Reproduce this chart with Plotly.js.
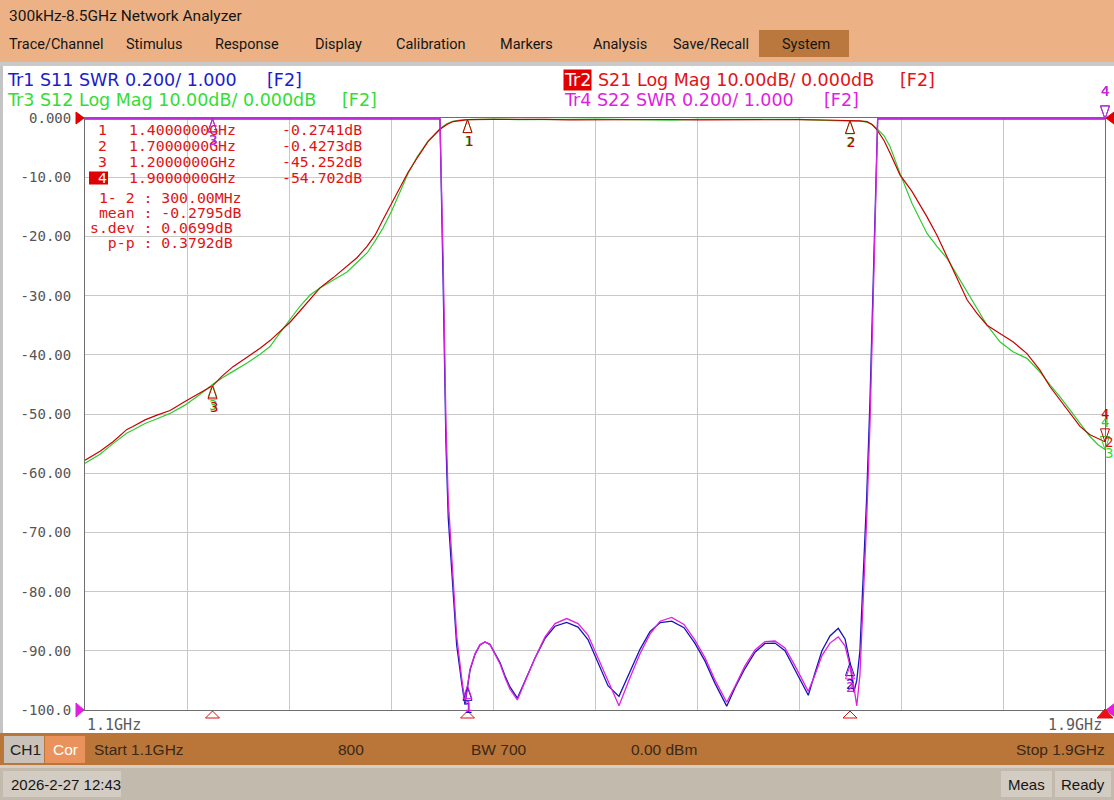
<!DOCTYPE html>
<html><head><meta charset="utf-8">
<script src="https://cdn.plot.ly/plotly-3.0.1.min.js"></script>
<style>html,body{margin:0;padding:0;background:#fff;overflow:hidden}#chart{width:1114px;height:800px}</style>
</head><body><div id="chart"></div>
<script>
// ---------------- DATA ----------------
const freqDb = [1.1000,1.1118,1.1220,1.1329,1.1376,1.1471,1.1565,1.1667,1.1784,1.1902,1.2000,1.2075,1.2161,1.2271,1.2373,1.2451,1.2529,1.2608,1.2686,1.2765,1.2843,1.2945,1.3055,1.3133,1.3212,1.3275,1.3337,1.3408,1.3471,1.3533,1.3604,1.3690,1.3784,1.3839,1.3886,1.3941,1.4000,1.42,1.44,1.46,1.48,1.50,1.52,1.54,1.56,1.58,1.60,1.62,1.64,1.66,1.68,1.7000,1.7078,1.7133,1.7173,1.7212,1.7267,1.7314,1.7392,1.7486,1.7604,1.7682,1.7761,1.7839,1.7918,1.7996,1.8075,1.8176,1.8278,1.8388,1.8490,1.8569,1.8647,1.8725,1.8804,1.8882,1.8945,1.9000];
const s21Db = [-57.8,-56.3,-54.7,-52.6,-52.1,-51.0,-50.2,-49.4,-47.9,-46.4,-45.25,-43.6,-42.0,-40.4,-38.9,-37.6,-36.1,-34.5,-32.6,-30.6,-28.7,-27.0,-25.1,-23.6,-21.7,-19.8,-17.2,-14.3,-11.6,-9.2,-6.8,-4.0,-1.9,-1.1,-0.6,-0.38,-0.274,-0.22,-0.20,-0.24,-0.31,-0.27,-0.22,-0.19,-0.25,-0.33,-0.30,-0.23,-0.21,-0.27,-0.34,-0.427,-0.50,-0.62,-1.1,-2.0,-3.8,-5.9,-9.6,-12.4,-16.7,-19.8,-23.4,-27.1,-30.7,-33.0,-35.0,-36.4,-37.8,-39.8,-42.6,-45.4,-47.6,-49.9,-52.1,-53.5,-54.1,-54.70];
const s12Db = [-58.3,-56.8,-55.0,-53.2,-52.7,-51.6,-50.8,-49.9,-48.5,-46.7,-45.0,-43.9,-42.8,-41.4,-39.9,-38.6,-36.3,-34.0,-31.8,-29.9,-28.7,-27.4,-26.0,-24.4,-22.8,-20.8,-18.6,-15.6,-12.4,-9.4,-6.6,-3.9,-1.8,-0.95,-0.55,-0.35,-0.27,-0.20,-0.26,-0.30,-0.24,-0.20,-0.28,-0.40,-0.36,-0.24,-0.21,-0.30,-0.27,-0.24,-0.40,-0.46,-0.52,-0.70,-1.1,-1.8,-3.0,-4.8,-9.35,-14.4,-19.5,-21.7,-23.7,-26.5,-29.3,-32.1,-35.0,-37.8,-39.5,-40.6,-42.9,-45.1,-47.1,-49.3,-51.6,-53.8,-55.2,-56.0];

const freqSwr = [1.1000,1.2000,1.3000,1.3700,1.3784,1.3810,1.3831,1.3849,1.3876,1.3915,1.3955,1.3980,1.4020,1.4059,1.4098,1.4137,1.4176,1.4216,1.4255,1.4294,1.4333,1.4391,1.4451,1.4529,1.4608,1.4686,1.4778,1.4867,1.4945,1.5024,1.5102,1.5188,1.5275,1.5353,1.5431,1.5510,1.5602,1.5698,1.5784,1.5863,1.5941,1.6033,1.6098,1.6176,1.6255,1.6333,1.6412,1.6490,1.6569,1.6673,1.6725,1.6780,1.6843,1.6908,1.6961,1.7000,1.7030,1.7053,1.7078,1.7104,1.7131,1.7157,1.7183,1.7204,1.7217,1.7300,1.8000,1.9000];
const s11Swr = [42,28,13,4.0,3.00,2.42,1.90,1.65,1.46,1.22,1.09,1.018,1.135,1.188,1.220,1.230,1.222,1.193,1.160,1.116,1.078,1.040,1.100,1.175,1.242,1.283,1.296,1.280,1.238,1.160,1.082,1.046,1.128,1.205,1.265,1.295,1.300,1.278,1.225,1.165,1.090,1.013,1.075,1.140,1.195,1.225,1.226,1.200,1.135,1.050,1.125,1.200,1.250,1.276,1.240,1.160,1.060,1.100,1.200,1.460,1.720,2.050,2.450,2.840,3.050,4.6,19,33];
const s22Swr = [45,30,14,4.2,3.00,2.50,1.97,1.71,1.51,1.25,1.105,1.027,1.139,1.190,1.221,1.230,1.221,1.190,1.156,1.110,1.070,1.034,1.098,1.176,1.247,1.292,1.309,1.292,1.253,1.176,1.098,1.014,1.110,1.190,1.256,1.300,1.313,1.289,1.236,1.176,1.101,1.026,1.080,1.149,1.203,1.231,1.233,1.210,1.149,1.063,1.118,1.184,1.226,1.247,1.217,1.149,1.080,1.014,1.118,1.380,1.645,1.970,2.370,2.760,3.000,4.5,20,35];

const markerNums = ['1','2','3','4'];
const markerFreqGHz = [1.4, 1.7, 1.2, 1.9];
const markerS21Db = [-0.2741, -0.4273, -45.252, -54.702];
const statLabels = ['mean', 's.dev', 'p-p'];
const statValuesDb = [-0.2795, 0.0699, 0.3792];

const yTickVals = [0,-10,-20,-30,-40,-50,-60,-70,-80,-90,-100];
const yTickText = ['0.000','-10.00','-20.00','-30.00','-40.00','-50.00','-60.00','-70.00','-80.00','-90.00','-100.0'];
const menuItems = ['Trace/Channel','Stimulus','Response','Display','Calibration','Markers','Analysis','Save/Recall','System'];
const headers = ['Tr1 S11 SWR 0.200/ 1.000','Tr2','S21 Log Mag 10.00dB/ 0.000dB','Tr3 S12 Log Mag 10.00dB/ 0.000dB','Tr4 S22 SWR 0.200/ 1.000'];
const startGHz = 1.1, stopGHz = 1.9, sweepPoints = 800, ifbwHz = 700, powerDbm = 0;
const dbRange = [-100, 0];
const swrRange = [1.0, 3.0];
const refDb = 0, refSwr = 1.0;
const timeStamp = '2026-2-27 12:43';

// ---------------- STYLE / LAYOUT ----------------
const W = 1114, H = 800;
const PL = 85, PR = 1105, PT = 118, PB = 710;
const px = x => x / W, py = y => 1 - y / H;
const C = {blue:'#1414b8', blueTxt:'#1c1ccc', red:'#c80000', redTxt:'#e01414', green:'#2ecc2e', greenTxt:'#33dd33', mag:'#e020e0', magTxt:'#e01ee0', grid:'#c8c8c8', frame:'#6e6e6e'};
const MONO = 'DejaVu Sans Mono', SANS = 'DejaVu Sans', UI = 'Roboto', BAR = 'Liberation Sans';
const nb = s => s.replace(/ /g, '\u00A0');

function interp(xs, ys, x) {
  for (let i = 0; i < xs.length - 1; i++) {
    if (x >= xs[i] && x <= xs[i+1]) { const t = (x - xs[i]) / (xs[i+1] - xs[i]); return ys[i] + t * (ys[i+1] - ys[i]); }
  }
  return x < xs[0] ? ys[0] : ys[ys.length-1];
}
const clampSwr = v => Math.min(Math.max(v, swrRange[0]), swrRange[1] - 0.003);
// linear axis scales expressed in paper units (same linear scales as the axes) for unclipped indicator shapes
const xDom = [px(PL), px(PR)], yDom = [py(PB), py(PT)];
const xPaper = f => xDom[0] + (f - startGHz) / (stopGHz - startGHz) * (xDom[1] - xDom[0]);
const yPaper = (v, r) => yDom[0] + (v - r[0]) / (r[1] - r[0]) * (yDom[1] - yDom[0]);

const shapes = [], ann = [];
function rect(x0, y0, x1, y1, color, layer) {
  shapes.push({type:'rect', xref:'paper', yref:'paper', x0:px(x0), x1:px(x1), y0:py(y1), y1:py(y0), fillcolor:color, line:{width:0}, layer:layer||'below'});
}
function txt(s, x, y, o) {
  o = o || {};
  ann.push({xref:'paper', yref:'paper', x:px(x), y:py(y), text:s, showarrow:false, xanchor:o.anchor||'left', yanchor:'middle',
    font:{family:o.family||UI, size:o.size||14.5, color:o.color||'#151515'}, bgcolor:o.bg||'rgba(0,0,0,0)', borderpad:o.pad||0});
}
function pshape(xa, ya, pts, color, fill) {
  shapes.push({type:'path', xref:'paper', yref:'paper', xsizemode:'pixel', ysizemode:'pixel', xanchor:xa, yanchor:ya,
    path:'M' + pts.map(p => p[0] + ',' + p[1]).join(' L') + ' Z', line:{color, width:1}, fillcolor:fill||'rgba(0,0,0,0)', layer:'above'});
}
function mlabel(yref, f, v, s, color, shift, dx) {
  ann.push({xref:'x', yref, x:f, y:v, text:s, showarrow:false, xanchor:'center', yanchor:'middle', yshift:shift, xshift:dx||0,
    font:{family:MONO, size:14, color}});
}
function traceMarker(yref, range, f, v, num, color, active, dx) {
  const xa = xPaper(f), ya = yPaper(v, range);
  if (active) { pshape(xa, ya, [[0,0],[-4.5,13],[4.5,13]], color); mlabel(yref, f, v, num, color, 28, dx); }
  else { pshape(xa, ya, [[0,0],[-4.5,-13],[4.5,-13]], color); mlabel(yref, f, v, num, color, -21, dx); }
}

// window chrome
rect(0, 0, W, 62, '#ECB285');
rect(759, 30, 849, 57, '#BA783E');
rect(0, 62, W, 66, '#C9C9C9');
rect(0, 66, 3, 733, '#C4C4C4');
rect(0, 733, W, 765, '#B97638');
rect(4, 736, 44, 763, '#C9C2BA');
rect(45, 736, 85, 763, '#E9925B');
rect(0, 765, W, 768, '#D6CEC4');
rect(0, 768, W, 800, '#C3BAAE');
rect(3, 771, 121, 797, '#D3CCC3');
rect(1001, 771, 1052, 797, '#D3CCC3');
rect(1055, 771, 1111, 797, '#D3CCC3');

txt('300kHz-8.5GHz Network Analyzer', 8, 16, {size:15.5});
const menuX = [8, 125, 214, 314, 395, 499, 591.5, 672, 781];
menuItems.forEach((m, i) => txt(m, menuX[i], 44));

// trace headers
txt(headers[0], 6, 80.5, {family:SANS, size:17.5, color:C.blueTxt});
txt('[F2]', 266, 80.5, {family:SANS, size:17.5, color:C.blueTxt});
txt(headers[3], 6, 100.5, {family:SANS, size:17.5, color:C.greenTxt});
txt('[F2]', 341, 100.5, {family:SANS, size:17.5, color:C.greenTxt});
txt(headers[1], 563, 79.5, {family:SANS, size:17.5, color:'#ffffff', bg:'#e00000'});
txt(headers[2], 597, 80.5, {family:SANS, size:17.5, color:C.redTxt});
txt('[F2]', 898.5, 80.5, {family:SANS, size:17.5, color:C.redTxt});
txt(headers[4], 563, 100.5, {family:SANS, size:17.5, color:C.magTxt});
txt('[F2]', 822.5, 100.5, {family:SANS, size:17.5, color:C.magTxt});

// marker table
const rowY = [129, 145, 161, 177.7];
markerNums.forEach((n, i) => {
  const active = i === 3;
  if (active) rect(89, 171.5, 108, 184.5, '#e00000', 'above');
  txt(n, 102.5, rowY[i], {family:MONO, size:14.8, color: active ? '#ffffff' : C.redTxt, anchor:'center'});
  txt(markerFreqGHz[i].toFixed(7) + 'GHz', 128, rowY[i], {family:MONO, size:14.8, color:C.redTxt});
  const v = markerS21Db[i];
  txt(v.toFixed(Math.abs(v) >= 10 ? 3 : 4) + 'dB', 362.5, rowY[i], {family:MONO, size:14.8, color:C.redTxt, anchor:'right'});
});
const spanMHz = (markerFreqGHz[1] - markerFreqGHz[0]) * 1000;
const statLines = [' 1- 2 : ' + spanMHz.toFixed(2) + 'MHz'].concat(statLabels.map((l, i) => {
  return (' '.repeat(5 - l.length)) + l + ' : ' + statValuesDb[i].toFixed(4) + 'dB';
}));
const statY = [197.3, 212.4, 227.4, 242.6];
statLines.forEach((s, i) => txt(nb(s), 89, statY[i], {family:MONO, size:14.8, color:C.redTxt}));

// x labels
txt(startGHz.toFixed(1) + 'GHz', 86, 725, {family:MONO, size:15, color:'#5a5a5a'});
txt(stopGHz.toFixed(1) + 'GHz', 1103, 725, {family:MONO, size:15, color:'#5a5a5a', anchor:'right'});

// bottom bars
txt('CH1', 25, 749.5, {family:BAR, size:15.5, color:'#202020', anchor:'center'});
txt('Cor', 65.5, 749.5, {family:BAR, size:15.5, color:'#ffffff', anchor:'center'});
txt('Start ' + startGHz.toFixed(1) + 'GHz', 93, 749.5, {family:BAR, size:15.5, color:'#3a2818'});
txt(String(sweepPoints), 337, 749.5, {family:BAR, size:15.5, color:'#3a2818'});
txt('BW ' + ifbwHz, 469.5, 749.5, {family:BAR, size:15.5, color:'#3a2818'});
txt(powerDbm.toFixed(2) + ' dBm', 630, 749.5, {family:BAR, size:15.5, color:'#3a2818'});
txt('Stop ' + stopGHz.toFixed(1) + 'GHz', 1106, 749.5, {family:BAR, size:15.5, color:'#3a2818', anchor:'right'});
txt(timeStamp, 10, 784, {family:BAR, size:15, color:'#151515'});
txt('Meas', 1026.5, 784, {family:BAR, size:15, color:'#151515', anchor:'center'});
txt('Ready', 1083, 784, {family:BAR, size:15, color:'#151515', anchor:'center'});

// reference level indicators (left and right of the grid)
pshape(xPaper(startGHz), yPaper(refDb, dbRange), [[-1,0],[-9,6],[-9,-6]], '#e00000', '#e00000');
pshape(xPaper(stopGHz), yPaper(refDb, dbRange), [[1,0],[9,6],[9,-6]], '#e00000', '#e00000');
pshape(xPaper(startGHz), yPaper(refSwr, swrRange), [[-1,0],[-9,7],[-9,-7]], C.mag, C.mag);
pshape(xPaper(stopGHz), yPaper(refSwr, swrRange), [[1,0],[10,7],[10,-7]], C.mag, C.mag);

// stimulus indicators below the grid
markerFreqGHz.forEach((f, i) => {
  const active = i === 3;
  pshape(xPaper(f), yDom[0], active ? [[0,1],[-8,-8],[8,-8]] : [[0,-1],[-7,-8],[7,-8]], '#dd1010', active ? '#ee1010' : null);
});

// trace markers
markerFreqGHz.forEach((f, i) => {
  const active = i === 3;
  const n = markerNums[i];
  traceMarker('y2', swrRange, f, clampSwr(interp(freqSwr, s11Swr, f)), n, C.blue, active);
  traceMarker('y2', swrRange, f, clampSwr(interp(freqSwr, s22Swr, f)), n, C.mag, active);
  traceMarker('y', dbRange, f, interp(freqDb, s12Db, f), n, C.green, active);
  traceMarker('y', dbRange, f, markerS21Db[i], n, C.red, active, active ? 0 : 1);
});
// trace tags at the right end
ann.push({xref:'x', yref:'y', x:stopGHz, y:s21Db[s21Db.length-1], text:'2', showarrow:false, xanchor:'left', xshift:-2, font:{family:MONO, size:14, color:C.redTxt}});
ann.push({xref:'x', yref:'y', x:stopGHz, y:s12Db[s12Db.length-1], text:'3', showarrow:false, xanchor:'left', xshift:-2, yshift:-3, font:{family:MONO, size:14, color:C.greenTxt}});

const traces = [
  {x:freqSwr, y:s11Swr.map(clampSwr), yaxis:'y2', mode:'lines', line:{color:C.blue, width:1.3}, hoverinfo:'skip'},
  {x:freqSwr, y:s22Swr.map(clampSwr), yaxis:'y2', mode:'lines', line:{color:C.mag, width:1.3}, hoverinfo:'skip'},
  {x:freqDb, y:s12Db, yaxis:'y', mode:'lines', line:{color:C.green, width:1.2}, hoverinfo:'skip'},
  {x:freqDb, y:s21Db, yaxis:'y', mode:'lines', line:{color:C.red, width:1.2}, hoverinfo:'skip'}
];

const layout = {
  width:W, height:H, margin:{l:0, r:0, t:0, b:0}, showlegend:false,
  paper_bgcolor:'#ffffff', plot_bgcolor:'#ffffff',
  xaxis:{domain:xDom, range:[startGHz, stopGHz], tick0:startGHz, dtick:(stopGHz-startGHz)/10, showticklabels:false, ticks:'',
    showgrid:true, gridcolor:C.grid, gridwidth:1, zeroline:false, showline:true, mirror:true, linecolor:C.frame, linewidth:1, fixedrange:true},
  yaxis:{domain:yDom, range:dbRange, tickvals:yTickVals, ticktext:yTickText, ticks:'', ticklabelstandoff:10,
    tickfont:{family:MONO, size:14, color:'#555555'}, showgrid:true, gridcolor:C.grid, gridwidth:1, zeroline:false,
    showline:true, mirror:true, linecolor:C.frame, linewidth:1, fixedrange:true},
  yaxis2:{overlaying:'y', range:swrRange, visible:false, fixedrange:true},
  shapes:shapes, annotations:ann
};
Plotly.newPlot('chart', traces, layout, {displayModeBar:false, staticPlot:true});
</script></body></html>
